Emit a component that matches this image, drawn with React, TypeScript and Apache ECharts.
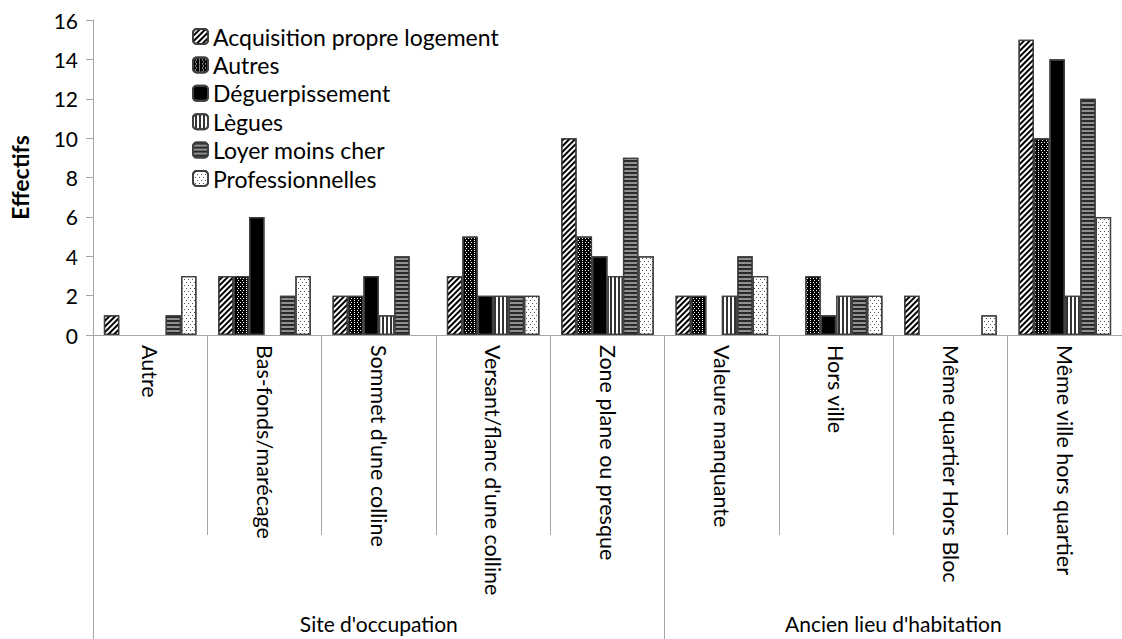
import React, { useEffect, useRef } from "react";
import * as echarts from "echarts";

const categories = [
  "Autre",
  "Bas-fonds/marécage",
  "Sommet d'une colline",
  "Versant/flanc d'une colline",
  "Zone plane ou presque",
  "Valeure manquante",
  "Hors ville",
  "Même quartier Hors Bloc",
  "Même ville hors quartier",
];
const groups = ["Site d'occupation", "Ancien lieu d'habitation"];
const groupSizes = [5, 4];

const seriesNames = [
  "Acquisition propre logement",
  "Autres",
  "Déguerpissement",
  "Lègues",
  "Loyer moins cher",
  "Professionnelles",
];
const acquisition = [1, 3, 2, 3, 10, 2, 0, 2, 15];
const autres = [0, 3, 2, 5, 5, 2, 3, 0, 10];
const deguerpissement = [0, 6, 3, 2, 4, 0, 1, 0, 14];
const legues = [0, 0, 1, 2, 3, 2, 2, 0, 2];
const loyer = [1, 2, 4, 2, 9, 4, 2, 0, 12];
const professionnelles = [3, 3, 0, 2, 4, 3, 2, 1, 6];
const seriesValues = [acquisition, autres, deguerpissement, legues, loyer, professionnelles];

const yTicks = [0, 2, 4, 6, 8, 10, 12, 14, 16];

const FONT = "Lato";
const GRAY = "#a6a6a6";

const styles: any[] = [
  {
    color: "#ffffff",
    decal: { symbol: "rect", dashArrayX: [1, 0], dashArrayY: [1.4, 2], rotation: -Math.PI / 4, color: "#000000" },
  },
  {
    color: "#000000",
    decal: { symbol: "rect", symbolSize: 1, dashArrayX: [[1, 2], [0, 1.5, 1, 0.5]], dashArrayY: [1, 1], color: "#ffffff" },
  },
  { color: "#000000", decal: { symbol: "none" } },
  {
    color: "#ffffff",
    decal: { symbol: "rect", dashArrayX: [1, 0], dashArrayY: [1.6, 2], rotation: Math.PI / 2, color: "#333333" },
  },
  {
    color: "#909090",
    decal: { symbol: "rect", dashArrayX: [1, 0], dashArrayY: [1.5, 1.5], color: "#2a2a2a" },
  },
  {
    color: "#ffffff",
    decal: { symbol: "rect", symbolSize: 1, dashArrayX: [[1, 3], [0, 2, 1, 1]], dashArrayY: [1, 1.5], color: "#555555" },
  },
];

export default function App() {
  const ref = useRef<HTMLDivElement>(null);
  useEffect(() => {
    if (!ref.current) return;
    const chart = echarts.init(ref.current, null, { renderer: "svg" });
    const total = groupSizes.reduce((a, b) => a + b, 0);
    const bounds: number[] = [0];
    const centers: number[] = [];
    let acc = 0;
    groupSizes.forEach((s) => {
      centers.push(acc + s / 2);
      acc += s;
      bounds.push(acc);
    });
    const option: any = {
      animation: false,
      textStyle: { fontFamily: FONT },
      grid: { left: 91.5, top: 20, bottom: 304, right: -7, containLabel: false },
      legend: {
        orient: "vertical",
        left: 192,
        top: 25,
        padding: 0,
        itemWidth: 15,
        itemHeight: 15,
        itemGap: 5.4,
        data: seriesNames,
        textStyle: { fontFamily: FONT, fontSize: 23, color: "#000" },
      },
      xAxis: [
        {
          type: "category",
          data: categories,
          axisLine: { show: true, lineStyle: { color: GRAY, width: 1 } },
          axisTick: { show: true, length: 200, interval: 0, lineStyle: { color: GRAY } },
          axisLabel: {
            interval: 0,
            rotate: -90,
            margin: 10,
            fontFamily: FONT,
            fontSize: 21.5,
            color: "#000",
          },
        },
        {
          type: "value",
          min: 0,
          max: total,
          position: "bottom",
          axisLine: { show: false },
          splitLine: { show: false },
          axisTick: { show: true, customValues: bounds.slice(0, bounds.length - 1), length: 304, lineStyle: { color: GRAY } },
          axisLabel: {
            customValues: centers,
            margin: 278,
            fontFamily: FONT,
            fontSize: 21,
            color: "#000",
            formatter: (v: number) => {
              const i = centers.indexOf(v);
              return i >= 0 ? groups[i] : "";
            },
          },
        },
      ],
      yAxis: {
        type: "value",
        min: yTicks[0],
        max: yTicks[yTicks.length - 1],
        interval: yTicks[1] - yTicks[0],
        name: "Effectifs",
        nameLocation: "middle",
        nameGap: 62,
        nameRotate: 90,
        nameTextStyle: { fontFamily: FONT, fontSize: 23, fontWeight: "bold", color: "#000" },
        axisLine: { show: true, lineStyle: { color: GRAY } },
        axisTick: { show: true, length: 7, lineStyle: { color: GRAY } },
        splitLine: { show: false },
        axisLabel: { fontFamily: FONT, fontSize: 21, color: "#000", margin: 15 },
      },
      series: seriesNames.map((name, i) => ({
        name,
        type: "bar",
        xAxisIndex: 0,
        barGap: "0%",
        barCategoryGap: "19%",
        itemStyle: {
          color: styles[i].color,
          decal: styles[i].decal,
          borderColor: "#404040",
          borderWidth: 1.3,
        },
        data: seriesValues[i].map((v) => (v === 0 ? "-" : v)),
      })),
    };
    chart.setOption(option);
    return () => chart.dispose();
  }, []);
  return (
    <div
      ref={ref}
      style={{ position: "absolute", left: 0, top: 0, width: 1122, height: 639, background: "#fff" }}
    />
  );
}
